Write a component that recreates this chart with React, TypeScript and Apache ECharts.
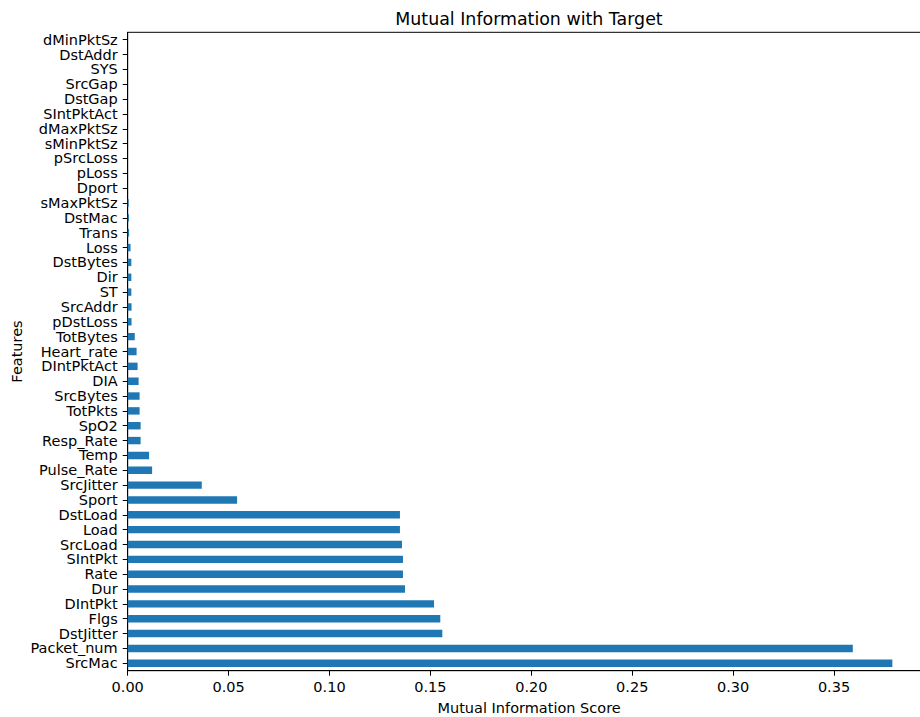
import React, { useEffect, useRef } from "react";
import * as echarts from "echarts";

// Categories listed bottom-to-top (as ECharts category y-axis orders them)
const features: string[] = [
  "SrcMac", "Packet_num", "DstJitter", "Flgs", "DIntPkt", "Dur", "Rate", "SIntPkt",
  "SrcLoad", "Load", "DstLoad", "Sport", "SrcJitter", "Pulse_Rate", "Temp", "Resp_Rate",
  "SpO2", "TotPkts", "SrcBytes", "DIA", "DIntPktAct", "Heart_rate", "TotBytes", "pDstLoss",
  "SrcAddr", "ST", "Dir", "DstBytes", "Loss", "Trans", "DstMac", "sMaxPktSz", "Dport",
  "pLoss", "pSrcLoss", "sMinPktSz", "dMaxPktSz", "SIntPktAct", "DstGap", "SrcGap", "SYS",
  "DstAddr", "dMinPktSz",
];

const scores: number[] = [
  0.3789, 0.3593, 0.1559, 0.1549, 0.1518, 0.1374, 0.1364, 0.1364,
  0.1359, 0.1349, 0.1349, 0.0542, 0.0367, 0.0121, 0.0106, 0.0064,
  0.0064, 0.0059, 0.0059, 0.0054, 0.0049, 0.0044, 0.0035, 0.0019,
  0.0019, 0.0018, 0.0018, 0.0018, 0.0014, 0.0007, 0.0006, 0.0005, 0,
  0, 0, 0, 0, 0, 0, 0, 0,
  0, 0,
];

const xTickStep = 0.05;
const xMax = 0.3978;

const FONT = "DejaVu Sans";

export default function App() {
  const ref = useRef<HTMLDivElement>(null);

  useEffect(() => {
    if (!ref.current) return;
    const chart = echarts.init(ref.current, undefined, { renderer: "svg" });
    chart.setOption({
      animation: false,
      backgroundColor: "#ffffff",
      title: {
        text: "Mutual Information with Target",
        left: 524,
        textAlign: "center",
        top: 5,
        textStyle: { fontFamily: FONT, fontSize: 17.4, fontWeight: "normal", color: "#000" },
      },
      grid: {
        left: 127.7,
        top: 32.3,
        width: 802.8,
        height: 638.4,
        show: true,
        borderColor: "#000",
        borderWidth: 1,
        backgroundColor: "transparent",
        containLabel: false,
        outerBoundsMode: "none",
      },
      xAxis: {
        type: "value",
        min: 0,
        max: xMax,
        interval: xTickStep,
        name: "Mutual Information Score",
        nameLocation: "middle",
        nameGap: 29.5,
        nameMoveOverlap: false,
        nameTextStyle: { fontFamily: FONT, fontSize: 14.5, color: "#000" },
        axisLine: { show: true, lineStyle: { color: "#000", width: 1 } },
        axisTick: { show: true, length: 5, lineStyle: { color: "#000", width: 1 } },
        axisLabel: {
          fontFamily: FONT,
          fontSize: 14.5,
          color: "#000",
          margin: 9,
          showMaxLabel: false,
          formatter: (v: number) => v.toFixed(2),
        },
        splitLine: { show: false },
      },
      yAxis: {
        type: "category",
        data: features,
        name: "Features",
        nameLocation: "middle",
        nameGap: 103,
        nameMoveOverlap: false,
        nameTextStyle: { fontFamily: FONT, fontSize: 14.5, color: "#000" },
        axisLine: { show: true, lineStyle: { color: "#000", width: 1 } },
        axisTick: { show: true, length: 5, alignWithLabel: true, lineStyle: { color: "#000", width: 1 } },
        axisLabel: { fontFamily: FONT, fontSize: 14.5, color: "#000", margin: 10, interval: 0 },
        splitLine: { show: false },
      },
      series: [
        {
          type: "bar",
          data: scores,
          barWidth: "50%",
          itemStyle: { color: "#1f77b4" },
        },
      ],
    });
    return () => chart.dispose();
  }, []);

  return (
    <div style={{ position: "absolute", left: 0, top: 0, width: 920, height: 717, overflow: "hidden", background: "#fff" }}>
      <div ref={ref} style={{ width: 940, height: 717 }} />
    </div>
  );
}
